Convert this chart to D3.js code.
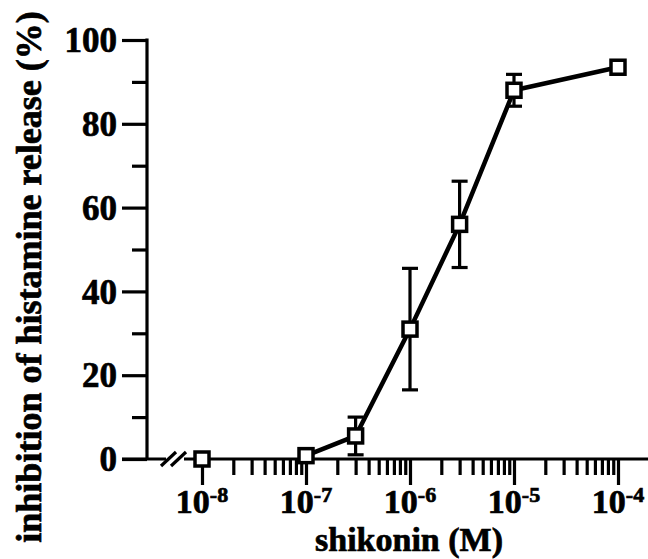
<!DOCTYPE html>
<html><head><meta charset="utf-8">
<script src="https://cdn.jsdelivr.net/npm/d3@7"></script>
<style>body{margin:0;background:#fff}svg{display:block}text{font-family:"Liberation Serif","Times New Roman",serif;font-weight:bold;fill:#000;stroke:#000;stroke-width:0.7px}</style>
</head><body><svg id="c" width="648" height="559"></svg>
<script>
const conc = [1e-8, 1e-7, 3e-7, 1e-6, 3e-6, 1e-5, 1e-4];
const inhibition = [0, 0.8, 5.5, 31, 56, 88, 93.5];
const sem = [0, 0, 4.5, 14.5, 10.3, 3.8, 0];
const yTicks = [0, 20, 40, 60, 80, 100];
const yMinor = [10, 30, 50, 70, 90];
const xMajor = [1e-8, 1e-7, 1e-6, 1e-5, 1e-4];
const xLabelExp = ["-8", "-7", "-6", "-5", "-4"];

const svg = d3.select("#c");
const x = d3.scaleLog().domain([1e-8, 1e-4]).range([202, 618]);
const y = d3.scaleLinear().domain([0, 100]).range([459, 40]);
const X0 = 147;

// minor x ticks 2..9 per decade
const xMinor = [];
for (let e = -8; e < -4; e++) for (let m = 2; m <= 9; m++) xMinor.push(m * Math.pow(10, e));

function styleAxis(g){ g.select(".domain").remove(); g.selectAll(".tick line").attr("stroke","#000").attr("stroke-width",3.2); g.selectAll(".tick text").remove(); }

svg.append("g").attr("transform",`translate(0,${y(0)})`).call(d3.axisBottom(x).tickValues(xMinor).tickSize(16).tickFormat("")).call(styleAxis);
svg.append("g").attr("transform",`translate(0,${y(0)})`).call(d3.axisBottom(x).tickValues(xMajor).tickSize(26).tickFormat("")).call(styleAxis);
svg.append("g").attr("transform",`translate(${X0},0)`).call(d3.axisLeft(y).tickValues(yMinor).tickSize(15).tickFormat("")).call(styleAxis);
svg.append("g").attr("transform",`translate(${X0},0)`).call(d3.axisLeft(y).tickValues(yTicks).tickSize(25).tickFormat("")).call(styleAxis);

// axis lines
svg.append("line").attr("x1",X0).attr("x2",X0).attr("y1",y(100)-1.5).attr("y2",y(0)).attr("stroke","#000").attr("stroke-width",3.2);
svg.append("line").attr("x1",X0-25).attr("x2",166).attr("y1",y(0)).attr("y2",y(0)).attr("stroke","#000").attr("stroke-width",3.2);
svg.append("line").attr("x1",184).attr("x2",648).attr("y1",y(0)).attr("y2",y(0)).attr("stroke","#000").attr("stroke-width",3.2);
// break marks
[0, 10].forEach(o => svg.append("line").attr("x1",161+o).attr("y1",y(0)+7).attr("x2",176+o).attr("y2",y(0)-7).attr("stroke","#000").attr("stroke-width",3.2));

// y labels
svg.append("g").selectAll("text").data(yTicks).join("text")
  .attr("x",117).attr("y",d=>y(d)).attr("dy","0.35em").attr("text-anchor","end")
  .style("font-size","35px").text(d=>d);

// x labels with superscript
const xl = svg.append("g").selectAll("text").data(xMajor).join("text")
  .attr("x",d=>x(d)).attr("y",513).attr("text-anchor","middle").style("font-size","34px");
xl.append("tspan").text("10");
xl.append("tspan").attr("dy",-11).style("font-size","22px").text((d,i)=>xLabelExp[i]);

// titles
svg.append("text").attr("x",409).attr("y",551).attr("text-anchor","middle").style("font-size","34px").text("shikonin (M)");
svg.append("text").attr("transform","translate(41,277) rotate(-90)").attr("text-anchor","middle").style("font-size","36px").text("inhibition of histamine release (%)");

// line (excluding control)
const pts = conc.map((c,i)=>({c, v:inhibition[i], s:sem[i]}));
svg.append("path").datum(pts.slice(1))
  .attr("d", d3.line().x(d=>x(d.c)).y(d=>y(d.v)))
  .attr("fill","none").attr("stroke","#000").attr("stroke-width",4.5);

// error bars
const eb = svg.append("g").selectAll("g").data(pts.filter(d=>d.s>0)).join("g").attr("stroke","#000").attr("stroke-width",3.2);
eb.append("line").attr("x1",d=>x(d.c)).attr("x2",d=>x(d.c)).attr("y1",d=>y(d.v+d.s)).attr("y2",d=>y(d.v-d.s));
eb.append("line").attr("x1",d=>x(d.c)-8).attr("x2",d=>x(d.c)+8).attr("y1",d=>y(d.v+d.s)).attr("y2",d=>y(d.v+d.s));
eb.append("line").attr("x1",d=>x(d.c)-8).attr("x2",d=>x(d.c)+8).attr("y1",d=>y(d.v-d.s)).attr("y2",d=>y(d.v-d.s));

// markers
svg.append("g").selectAll("rect").data(pts).join("rect")
  .attr("x",d=>x(d.c)-7).attr("y",d=>y(d.v)-7).attr("width",14).attr("height",14)
  .attr("fill","#fff").attr("stroke","#000").attr("stroke-width",3.5);
</script></body></html>
